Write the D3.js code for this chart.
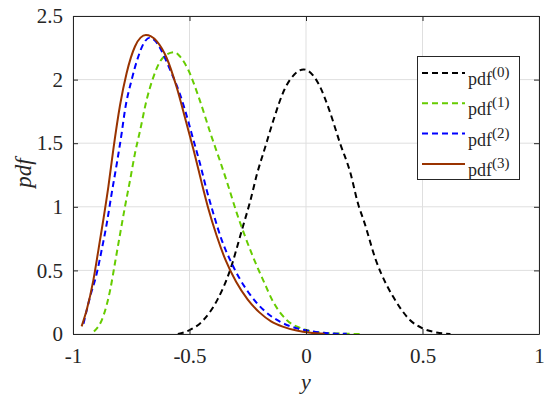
<!DOCTYPE html>
<html>
<head>
<meta charset="utf-8">
<script src="https://cdn.jsdelivr.net/npm/d3@7"></script>
<style>
  html, body { margin: 0; padding: 0; background: #fff; }
  svg { display: block; }
</style>
</head>
<body>
<svg id="chart" width="550" height="399"></svg>
<script>
// ---- data ----
const xTicks = [-1, -0.5, 0, 0.5, 1];
const yTicks = [0, 0.5, 1, 1.5, 2, 2.5];
const xTickLabels = ["-1", "-0.5", "0", "0.5", "1"];
const yTickLabels = ["0", "0.5", "1", "1.5", "2", "2.5"];
const seriesNames = ["(0)", "(1)", "(2)", "(3)"];

const pdf0 = [
  [-0.55, 0], [-0.5, 0.03], [-0.44, 0.11], [-0.38, 0.27], [-0.33, 0.48], [-0.27, 0.85],
  [-0.24, 1.04], [-0.21, 1.26], [-0.175, 1.47], [-0.14, 1.68], [-0.093, 1.92], [-0.05, 2.04],
  [-0.01, 2.08], [0.053, 1.97], [0.10, 1.76], [0.146, 1.50], [0.19, 1.27], [0.224, 1.02],
  [0.25, 0.88], [0.30, 0.58], [0.346, 0.385], [0.375, 0.29], [0.41, 0.19], [0.446, 0.11],
  [0.5, 0.045], [0.56, 0.012], [0.62, 0]
];
const pdf1 = [
  [-0.91, 0.02], [-0.87, 0.14], [-0.84, 0.35], [-0.82, 0.556], [-0.80, 0.765], [-0.777, 1.0],
  [-0.755, 1.21], [-0.734, 1.42], [-0.712, 1.6], [-0.684, 1.84], [-0.655, 2.02], [-0.627, 2.14],
  [-0.595, 2.2], [-0.565, 2.215], [-0.54, 2.18], [-0.505, 2.075], [-0.462, 1.87], [-0.405, 1.55],
  [-0.369, 1.36], [-0.333, 1.16], [-0.297, 0.95], [-0.26, 0.76], [-0.226, 0.6], [-0.183, 0.42],
  [-0.14, 0.25], [-0.083, 0.11], [-0.012, 0.04], [0.06, 0.012], [0.15, 0.003], [0.24, 0]
];
const pdf2 = [
  [-0.955, 0.08], [-0.927, 0.29], [-0.898, 0.477], [-0.877, 0.66], [-0.855, 0.87], [-0.834, 1.106],
  [-0.812, 1.34], [-0.791, 1.58], [-0.777, 1.76], [-0.748, 2.0], [-0.72, 2.18], [-0.695, 2.29],
  [-0.67, 2.33], [-0.645, 2.3], [-0.627, 2.25], [-0.584, 2.08], [-0.54, 1.88], [-0.505, 1.67],
  [-0.484, 1.53], [-0.455, 1.34], [-0.426, 1.13], [-0.398, 0.95], [-0.362, 0.74], [-0.319, 0.556],
  [-0.283, 0.43], [-0.24, 0.31], [-0.183, 0.19], [-0.112, 0.097], [-0.04, 0.045], [0.03, 0.02],
  [0.1, 0.006], [0.175, 0.001]
];
const pdf3 = [
  [-0.963, 0.06], [-0.941, 0.19], [-0.913, 0.42], [-0.891, 0.66], [-0.87, 0.896], [-0.848, 1.16],
  [-0.827, 1.45], [-0.798, 1.8], [-0.77, 2.05], [-0.734, 2.26], [-0.71, 2.33], [-0.687, 2.35],
  [-0.665, 2.34], [-0.64, 2.3], [-0.598, 2.17], [-0.555, 1.94], [-0.515, 1.67], [-0.476, 1.40],
  [-0.448, 1.19], [-0.419, 0.985], [-0.383, 0.77], [-0.345, 0.58], [-0.3, 0.41], [-0.25, 0.27],
  [-0.2, 0.17], [-0.15, 0.1], [-0.1, 0.058], [-0.04, 0.027], [0.02, 0.01], [0.08, 0.002]
];

const seriesData = [pdf0, pdf1, pdf2, pdf3];
const colors = ["#000000", "#66cc00", "#0000ff", "#993300"];
const dashes = ["6,4", "6,4", "6,4", null];
const FONT = "'Liberation Serif', 'Times New Roman', Times, serif";

// ---- layout ----
const svg = d3.select("#chart");
const L = 73, R = 539, T = 16, B = 334;
const x = d3.scaleLinear().domain([-1, 1]).range([L, R]);
const y = d3.scaleLinear().domain([0, 2.5]).range([B, T]);

// grid
const grid = svg.append("g");
grid.selectAll("line.gx").data(xTicks).enter().append("line")
  .attr("x1", d => x(d)).attr("x2", d => x(d)).attr("y1", T).attr("y2", B)
  .attr("stroke", "#dfdfdf").attr("stroke-width", 1);
grid.selectAll("line.gy").data(yTicks).enter().append("line")
  .attr("y1", d => y(d)).attr("y2", d => y(d)).attr("x1", L).attr("x2", R)
  .attr("stroke", "#dfdfdf").attr("stroke-width", 1);

// curves
const line = d3.line().x(d => x(d[0])).y(d => y(d[1])).curve(d3.curveMonotoneX);
svg.append("clipPath").attr("id", "clip").append("rect")
  .attr("x", L).attr("y", T).attr("width", R - L).attr("height", B - T);
const curves = svg.append("g").attr("clip-path", "url(#clip)");
seriesData.forEach((s, i) => {
  curves.append("path").datum(s)
    .attr("d", line)
    .attr("fill", "none")
    .attr("stroke", colors[i])
    .attr("stroke-width", 2)
    .attr("stroke-dasharray", dashes[i]);
});

// axes (inner ticks, box)
const tickFmt = (labels, ticks) => (d) => labels[ticks.indexOf(d)];
const axB = d3.axisBottom(x).tickValues(xTicks).tickSizeInner(-5).tickSizeOuter(0).tickPadding(14)
  .tickFormat(tickFmt(xTickLabels, xTicks));
const axL = d3.axisLeft(y).tickValues(yTicks).tickSizeInner(-5).tickSizeOuter(0).tickPadding(10)
  .tickFormat(tickFmt(yTickLabels, yTicks));
const axT = d3.axisTop(x).tickValues(xTicks).tickSizeInner(-5).tickSizeOuter(0).tickFormat("");
const axR = d3.axisRight(y).tickValues(yTicks).tickSizeInner(-5).tickSizeOuter(0).tickFormat("");

function styleAxis(g) {
  g.attr("font-family", FONT).attr("font-size", 21);
  g.selectAll("path.domain").attr("stroke", "#262626").attr("stroke-width", 1);
  g.selectAll(".tick line").attr("stroke", "#262626").attr("stroke-width", 1);
  g.selectAll(".tick text").style("font-family", FONT).style("font-size", "21px").attr("fill", "#262626");
}
svg.append("g").attr("transform", `translate(0,${B})`).call(axB).call(styleAxis);
svg.append("g").attr("transform", `translate(${L},0)`).call(axL).call(styleAxis);
svg.append("g").attr("transform", `translate(0,${T})`).call(axT).call(styleAxis);
svg.append("g").attr("transform", `translate(${R},0)`).call(axR).call(styleAxis);

// axis labels
svg.append("text").attr("x", x(0)).attr("y", 389).attr("text-anchor", "middle")
  .style("font-family", FONT).style("font-size", "22px").style("font-style", "italic")
  .attr("fill", "#262626").text("y");
svg.append("text").attr("transform", `translate(31,173) rotate(-90)`)
  .attr("text-anchor", "middle")
  .style("font-family", FONT).style("font-size", "23px").style("font-style", "italic")
  .attr("fill", "#262626").text("pdf");

// legend
const lg = svg.append("g");
lg.append("rect").attr("x", 417.5).attr("y", 56.5).attr("width", 102).attr("height", 123)
  .attr("fill", "#fff").attr("stroke", "#262626").attr("stroke-width", 1);
seriesNames.forEach((nm, i) => {
  const ly = 73 + i * 30.3;
  lg.append("line").attr("x1", 422).attr("x2", 465).attr("y1", ly).attr("y2", ly)
    .attr("stroke", colors[i]).attr("stroke-width", 2).attr("stroke-dasharray", dashes[i]);
  const t = lg.append("text").attr("x", 468).attr("y", ly + 12)
    .style("font-family", FONT).style("font-size", "18px").attr("fill", "#262626");
  t.append("tspan").text("pdf");
  t.append("tspan").attr("dy", -8).style("font-size", "15px").text(nm);
});
</script>
</body>
</html>
